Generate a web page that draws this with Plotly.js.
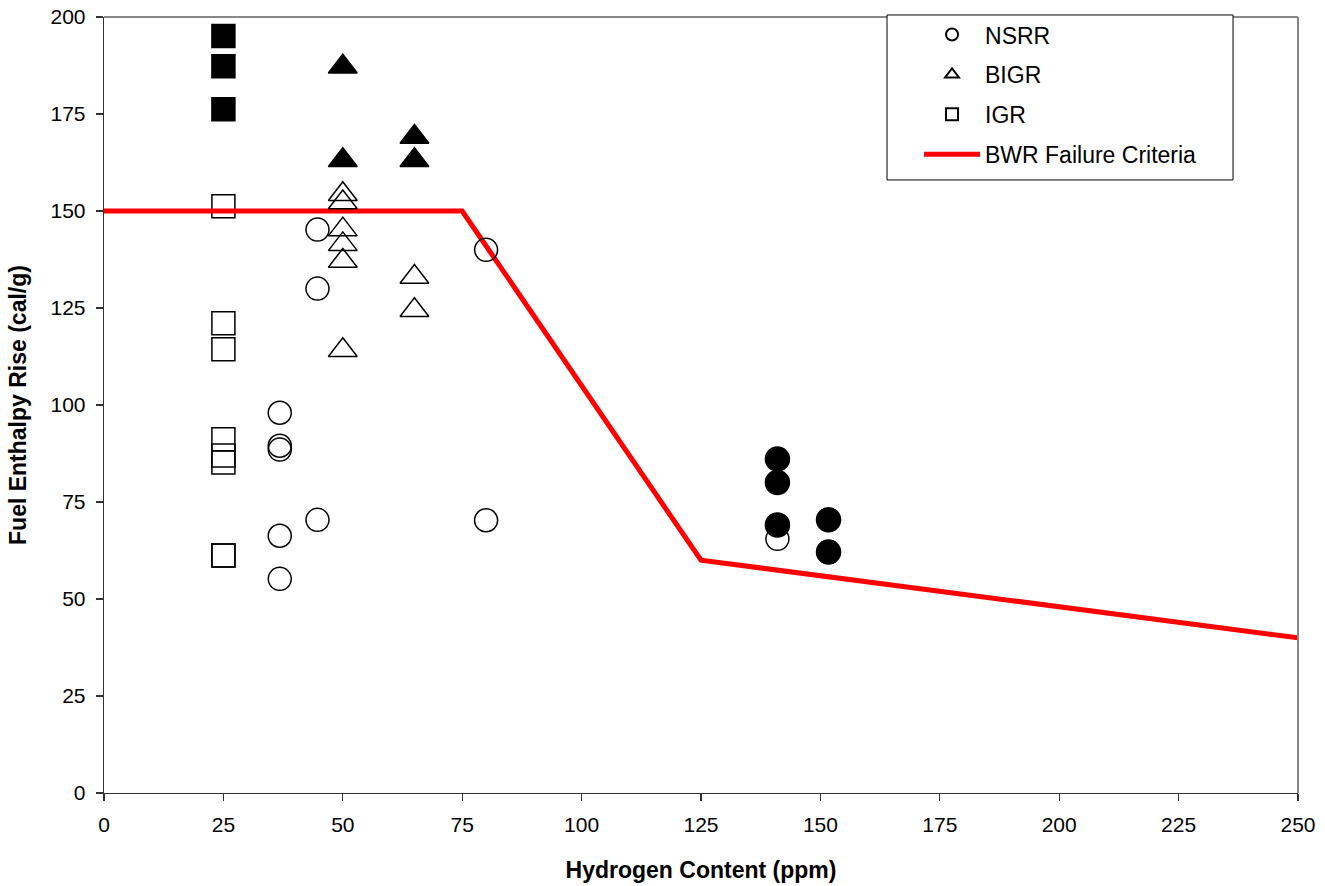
<!DOCTYPE html>
<html>
<head>
<meta charset="utf-8">
<script src="https://cdn.plot.ly/plotly-3.0.1.min.js"></script>
<style>html,body{margin:0;padding:0;background:#fff;}#chart{width:1325px;height:886px;}</style>
</head>
<body>
<div id="chart"></div>
<script>
// Tick values
const xTicks = [0, 25, 50, 75, 100, 125, 150, 175, 200, 225, 250];
const yTicks = [0, 25, 50, 75, 100, 125, 150, 175, 200];

// NSRR (open = no failure, filled = failure)
const nsrrX = [36.8, 36.8, 36.8, 36.8, 36.8, 44.7, 44.7, 44.7, 80, 80, 141];
const nsrrY = [98, 89.5, 88.5, 66.3, 55.2, 145.2, 130, 70.4, 140, 70.3, 65.5];
const nsrrFailX = [141, 141, 141, 151.7, 151.7];
const nsrrFailY = [86.1, 80, 69.1, 70.4, 62.1];

// BIGR
const bigrX = [50, 50, 50, 50, 50, 50, 65, 65];
const bigrY = [154.3, 152.2, 145.2, 141.4, 137.1, 114.1, 133, 124.4];
const bigrFailX = [50, 50, 65, 65];
const bigrFailY = [187.2, 163.1, 169.1, 163.1];

// IGR
const igrX = [25, 25, 25, 25, 25, 25, 25, 25];
const igrY = [151.2, 121.1, 114.4, 91.2, 87, 85.2, 61.2, 61.2];
const igrFailX = [25, 25, 25];
const igrFailY = [195.1, 187.3, 176.2];

// BWR failure criteria
const critX = [0, 75, 125, 250];
const critY = [150, 150, 60, 40];

const openLine = {color: '#000', width: 1.5};
const traces = [
  {x: igrX, y: igrY, name: 'IGR', type: 'scatter', mode: 'markers', legendrank: 3, legendgroup: 'c',
   marker: {symbol: 'square', size: 23, color: 'rgba(255,255,255,0)', line: openLine}},
  {x: igrFailX, y: igrFailY, name: 'IGR failed', type: 'scatter', mode: 'markers', showlegend: false,
   marker: {symbol: 'square', size: 23, color: '#000', line: openLine}},
  {x: critX, y: critY, name: 'BWR Failure Criteria', type: 'scatter', mode: 'lines', legendrank: 4, legendgroup: 'd',
   line: {color: '#ff0000', width: 5}},
  {x: bigrX, y: bigrY, name: 'BIGR', type: 'scatter', mode: 'markers', legendrank: 2, legendgroup: 'b',
   marker: {symbol: 'triangle-up', size: 25, color: 'rgba(255,255,255,0)', line: openLine}},
  {x: bigrFailX, y: bigrFailY, name: 'BIGR failed', type: 'scatter', mode: 'markers', showlegend: false,
   marker: {symbol: 'triangle-up', size: 25, color: '#000', line: openLine}},
  {x: nsrrX, y: nsrrY, name: 'NSRR', type: 'scatter', mode: 'markers', legendrank: 1, legendgroup: 'a',
   marker: {symbol: 'circle', size: 23, color: 'rgba(255,255,255,0)', line: openLine}},
  {x: nsrrFailX, y: nsrrFailY, name: 'NSRR failed', type: 'scatter', mode: 'markers', showlegend: false,
   marker: {symbol: 'circle', size: 24, color: '#000', line: openLine}}
];

const font = {family: 'Liberation Sans, Arial, sans-serif', color: '#000'};
const layout = {
  width: 1325, height: 886,
  margin: {l: 104, r: 27, t: 17, b: 93},
  paper_bgcolor: '#fff', plot_bgcolor: '#fff',
  font: Object.assign({size: 21}, font),
  showlegend: true,
  xaxis: {
    range: [0, 250], tickvals: xTicks, ticktext: xTicks.map(String),
    ticks: 'outside', ticklen: 7, tickcolor: '#333', tickwidth: 1.3,
    showline: true, linecolor: '#333', linewidth: 1.3,
    showgrid: false, zeroline: false, fixedrange: true,
    ticklabelstandoff: 5,
    tickfont: Object.assign({size: 21}, font),
    title: {text: '<b>Hydrogen Content (ppm)</b>', font: Object.assign({size: 23}, font), standoff: 27}
  },
  yaxis: {
    range: [0, 200], tickvals: yTicks, ticktext: yTicks.map(String),
    ticks: 'outside', ticklen: 7, tickcolor: '#333', tickwidth: 1.3,
    showline: true, linecolor: '#333', linewidth: 1.3,
    showgrid: false, zeroline: false, fixedrange: true,
    ticklabelstandoff: 6,
    tickfont: Object.assign({size: 21}, font),
    title: {text: '<b>Fuel Enthalpy Rise (cal/g)</b>', font: Object.assign({size: 23}, font), standoff: 17}
  },
  shapes: [
    {type: 'line', xref: 'paper', yref: 'paper', x0: 0, x1: 1, y0: 1, y1: 1, line: {color: '#888', width: 2}},
    {type: 'line', xref: 'paper', yref: 'paper', x0: 1, x1: 1, y0: 0, y1: 1, line: {color: '#888', width: 2}},
    // legend frame
    {type: 'rect', xref: 'paper', yref: 'paper', x0: 0.6558, x1: 0.9456, y0: 0.790, y1: 1.0026,
     line: {color: '#000', width: 1}, fillcolor: '#fff', layer: 'above'}
  ],
  legend: {
    x: 0.6826, y: 1.005, xanchor: 'left', yanchor: 'top',
    bgcolor: 'rgba(0,0,0,0)', borderwidth: 0,
    font: Object.assign({size: 23}, font),
    itemsizing: 'constant', traceorder: 'grouped', itemwidth: 56,
    tracegroupgap: 7
  }
};

Plotly.newPlot('chart', traces, layout, {displayModeBar: false, staticPlot: true});
</script>
</body>
</html>
